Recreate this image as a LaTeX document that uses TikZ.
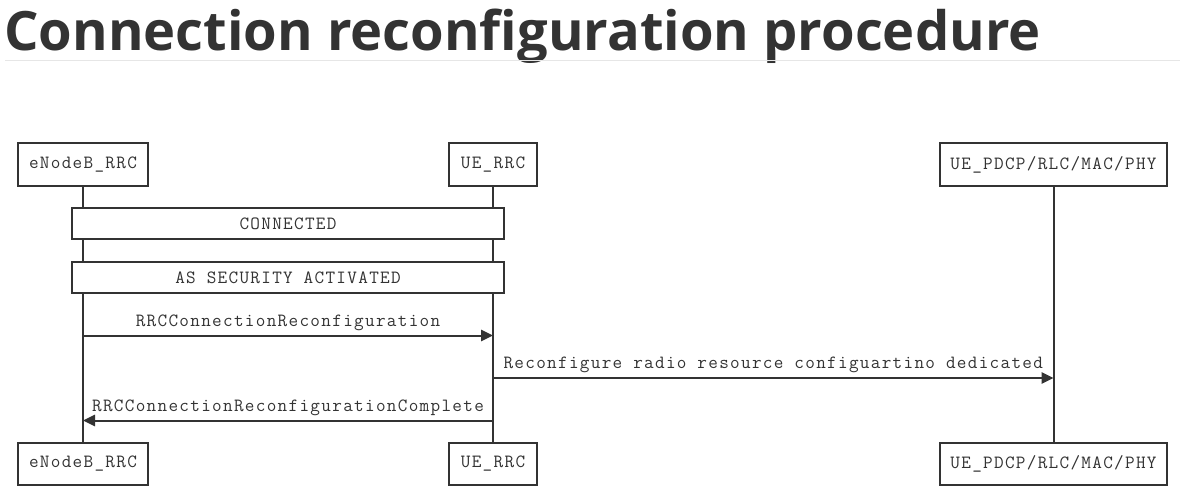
\documentclass[tikz,border=0pt]{standalone}
\usepackage{fontspec}
\setmonofont{Latin Modern Mono}[LetterSpace=7]
\newfontfamily\titlefont{Open Sans}
\usepackage{xcolor}
\usepackage{tikz}
\usetikzlibrary{arrows.meta,positioning,calc}
\definecolor{ink}{HTML}{333333}
\definecolor{rulegray}{HTML}{E6E6E6}

\begin{document}
\begin{tikzpicture}[
  x=0.75pt, y=-0.75pt,
  actor/.style={draw=ink, line width=1.5pt, fill=white, minimum height=32pt, inner sep=0pt, font=\ttfamily\fontsize{14}{16}\selectfont, text=ink},
  state/.style={draw=ink, line width=1.5pt, fill=white, minimum width=324pt, minimum height=23.5pt, inner sep=0pt, font=\ttfamily\fontsize{14}{16}\selectfont, text=ink},
  lifeline/.style={draw=ink, line width=1.5pt},
  msg/.style={-{Triangle[length=9pt, width=8.5pt]}, draw=ink, fill=ink, line width=1.5pt},
  msglabel/.style={above=1pt, font=\ttfamily\fontsize{14}{16}\selectfont, text=ink, fill=none, inner sep=2pt},
]
\useasboundingbox (0,0) rectangle (1180,502);

% title
\node[anchor=base west, inner sep=0pt, text=ink, font=\titlefont\bfseries\fontsize{40.7}{44}\selectfont] (title) at (4,51) {Connection reconfiguration procedure};
\draw[rulegray, line width=0.75pt] (5,60.5) -- (1180,60.5);

% participants, top and bottom
\node[actor, minimum width=97.5pt] (enbTop) at (83,164.5) {eNodeB\_RRC};
\node[actor, minimum width=66.5pt] (ueTop) at (493,164.5) {UE\_RRC};
\node[actor, minimum width=170pt] (phyTop) at (1053.5,164.5) {UE\_PDCP/RLC/MAC/PHY};
\node[actor, minimum width=97.5pt] (enbBot) at (83,464) {eNodeB\_RRC};
\node[actor, minimum width=66.5pt] (ueBot) at (493,464) {UE\_RRC};
\node[actor, minimum width=170pt] (phyBot) at (1053.5,464) {UE\_PDCP/RLC/MAC/PHY};

% lifelines
\draw[lifeline] (enbTop) -- (enbBot);
\draw[lifeline] (ueTop) -- (ueBot);
\draw[lifeline] (phyTop) -- (phyBot);
\node[actor, minimum width=97.5pt] at (enbTop) {eNodeB\_RRC};
\node[actor, minimum width=66.5pt] at (ueTop) {UE\_RRC};
\node[actor, minimum width=170pt] at (phyTop) {UE\_PDCP/RLC/MAC/PHY};
\node[actor, minimum width=97.5pt] at (enbBot) {eNodeB\_RRC};
\node[actor, minimum width=66.5pt] at (ueBot) {UE\_RRC};
\node[actor, minimum width=170pt] at (phyBot) {UE\_PDCP/RLC/MAC/PHY};

% states
\node[state] (connected) at (288,223.5) {CONNECTED};
\node[state] (secured) at (288,277.5) {AS SECURITY ACTIVATED};

% messages
\coordinate (m1) at (0,335.5);
\coordinate (m2) at (0,378);
\coordinate (m3) at (0,420.5);
\draw[msg] (enbTop |- m1) -- node[msglabel] {RRCConnectionReconfiguration} (ueTop |- m1);
\draw[msg] (ueTop |- m2) -- node[msglabel] {Reconfigure radio resource configuartino dedicated} (phyTop |- m2);
\draw[msg] (ueTop |- m3) -- node[msglabel] {RRCConnectionReconfigurationComplete} (enbTop |- m3);

\end{tikzpicture}
\end{document}
